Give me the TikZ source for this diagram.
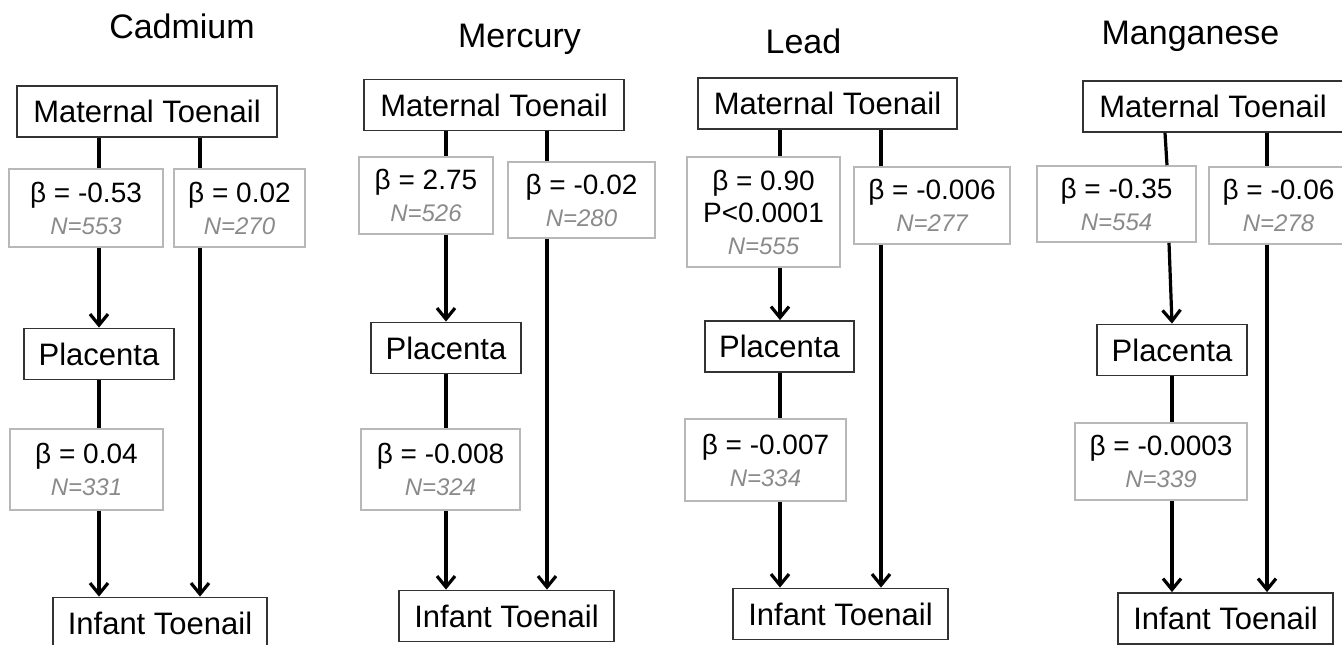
\documentclass[tikz,border=0pt]{standalone}
\usepackage{fontspec}
\setmainfont{Liberation Sans}
\usepackage{tikz}
\usetikzlibrary{arrows.meta}
\definecolor{coefgray}{HTML}{B8B8B8}
\definecolor{ngray}{HTML}{8A8A8A}
\tikzset{
  box/.style = {draw=black!80, line width=1.8pt, inner sep=0pt, minimum height=51pt, font=\fontsize{31}{34}\selectfont},
  coef/.style = {draw=coefgray, line width=1.6pt, inner sep=0pt, align=center, font=\fontsize{28}{32}\selectfont},
  metal/.style = {anchor=base, font=\fontsize{34}{38}\selectfont},
  link/.style = {line width=3.2pt},
  arrow/.style = {line width=3.2pt, -{Straight Barb[length=11pt,width=18pt]}}
}
\newcommand{\ncount}[1]{{\fontsize{24}{32}\selectfont\itshape\color{ngray}#1}}

\begin{document}
\begin{tikzpicture}[x=1pt,y=-1pt]
  \clip (0,0) rectangle (1342,645);

  % Cadmium
  \node[metal] (cdname) at (182,38) {Cadmium};
  \node[box, minimum width=260pt] (cdmat) at (147,111.5) {Maternal Toenail};
  \node[coef, minimum width=154pt, minimum height=78pt] (cdb1) at (86,208) {β = -0.53\\\ncount{N=553}};
  \node[coef, minimum width=131pt, minimum height=78pt] (cdb2) at (239.5,208) {β = 0.02\\\ncount{N=270}};
  \node[box, minimum width=150pt] (cdpla) at (99,354) {Placenta};
  \node[coef, minimum width=153pt, minimum height=81pt] (cdb3) at (86.5,469.5) {β = 0.04\\\ncount{N=331}};
  \node[box, minimum width=214pt] (cdinf) at (160,623) {Infant Toenail};
  \coordinate (cdL) at (99,0);
  \coordinate (cdR) at (200,0);
  \draw[link] (cdmat.south -| cdL) -- (cdb1.north -| cdL);
  \draw[arrow] (cdb1.south -| cdL) -- (cdpla.north -| cdL);
  \draw[link] (cdpla.south -| cdL) -- (cdb3.north -| cdL);
  \draw[arrow] (cdb3.south -| cdL) -- (cdinf.north -| cdL);
  \draw[link] (cdmat.south -| cdR) -- (cdb2.north -| cdR);
  \draw[arrow] (cdb2.south -| cdR) -- (cdinf.north -| cdR);

  % Mercury
  \node[metal] (hgname) at (519.5,47) {Mercury};
  \node[box, minimum width=260pt] (hgmat) at (494,105) {Maternal Toenail};
  \node[coef, minimum width=134pt, minimum height=77pt] (hgb1) at (426,195.5) {β = 2.75\\\ncount{N=526}};
  \node[coef, minimum width=147pt, minimum height=76pt] (hgb2) at (581.5,200) {β = -0.02\\\ncount{N=280}};
  \node[box, minimum width=150pt] (hgpla) at (446,348) {Placenta};
  \node[coef, minimum width=159pt, minimum height=81pt] (hgb3) at (440.5,469.5) {β = -0.008\\\ncount{N=324}};
  \node[box, minimum width=215pt] (hginf) at (506.5,616) {Infant Toenail};
  \coordinate (hgL) at (446,0);
  \coordinate (hgR) at (547,0);
  \draw[link] (hgmat.south -| hgL) -- (hgb1.north -| hgL);
  \draw[arrow] (hgb1.south -| hgL) -- (hgpla.north -| hgL);
  \draw[link] (hgpla.south -| hgL) -- (hgb3.north -| hgL);
  \draw[arrow] (hgb3.south -| hgL) -- (hginf.north -| hgL);
  \draw[link] (hgmat.south -| hgR) -- (hgb2.north -| hgR);
  \draw[arrow] (hgb2.south -| hgR) -- (hginf.north -| hgR);

  % Lead
  \node[metal] (pbname) at (803.5,53) {Lead};
  \node[box, minimum width=259pt] (pbmat) at (827.5,103.5) {Maternal Toenail};
  \node[coef, minimum width=153pt, minimum height=110pt] (pbb1) at (763.5,212) {β = 0.90\\P<0.0001\\\ncount{N=555}};
  \node[coef, minimum width=156pt, minimum height=77pt] (pbb2) at (932,205.5) {β = -0.006\\\ncount{N=277}};
  \node[box, minimum width=149pt] (pbpla) at (779.5,346.5) {Placenta};
  \node[coef, minimum width=161pt, minimum height=82pt] (pbb3) at (765.5,460) {β = -0.007\\\ncount{N=334}};
  \node[box, minimum width=215pt] (pbinf) at (840.5,614) {Infant Toenail};
  \coordinate (pbL) at (780,0);
  \coordinate (pbR) at (881,0);
  \draw[link] (pbmat.south -| pbL) -- (pbb1.north -| pbL);
  \draw[arrow] (pbb1.south -| pbL) -- (pbpla.north -| pbL);
  \draw[link] (pbpla.south -| pbL) -- (pbb3.north -| pbL);
  \draw[arrow] (pbb3.south -| pbL) -- (pbinf.north -| pbL);
  \draw[link] (pbmat.south -| pbR) -- (pbb2.north -| pbR);
  \draw[arrow] (pbb2.south -| pbR) -- (pbinf.north -| pbR);

  % Manganese
  \node[metal] (mnname) at (1190.5,45) {Manganese};
  \node[box, minimum width=260pt] (mnmat) at (1213,106.5) {Maternal Toenail};
  \node[coef, minimum width=159pt, minimum height=76pt] (mnb1) at (1116.5,204) {β = -0.35\\\ncount{N=554}};
  \node[coef, minimum width=139pt, minimum height=77pt] (mnb2) at (1278.5,205.5) {β = -0.06\\\ncount{N=278}};
  \node[box, minimum width=150pt] (mnpla) at (1172,350) {Placenta};
  \node[coef, minimum width=172pt, minimum height=77pt] (mnb3) at (1161,461.5) {β = -0.0003\\\ncount{N=339}};
  \node[box, minimum width=215pt] (mninf) at (1225.5,618.5) {Infant Toenail};
  \coordinate (mnT) at (1165,0);
  \coordinate (mnM) at (1167,0);
  \coordinate (mnB) at (1169,0);
  \coordinate (mnL) at (1172,0);
  \coordinate (mnR) at (1267,0);
  \draw[link] (mnmat.south -| mnT) -- (mnb1.north -| mnM);
  \draw[arrow] (mnb1.south -| mnB) -- (mnpla.north -| mnL);
  \draw[link] (mnpla.south -| mnL) -- (mnb3.north -| mnL);
  \draw[arrow] (mnb3.south -| mnL) -- (mninf.north -| mnL);
  \draw[link] (mnmat.south -| mnR) -- (mnb2.north -| mnR);
  \draw[arrow] (mnb2.south -| mnR) -- (mninf.north -| mnR);
\end{tikzpicture}
\end{document}
